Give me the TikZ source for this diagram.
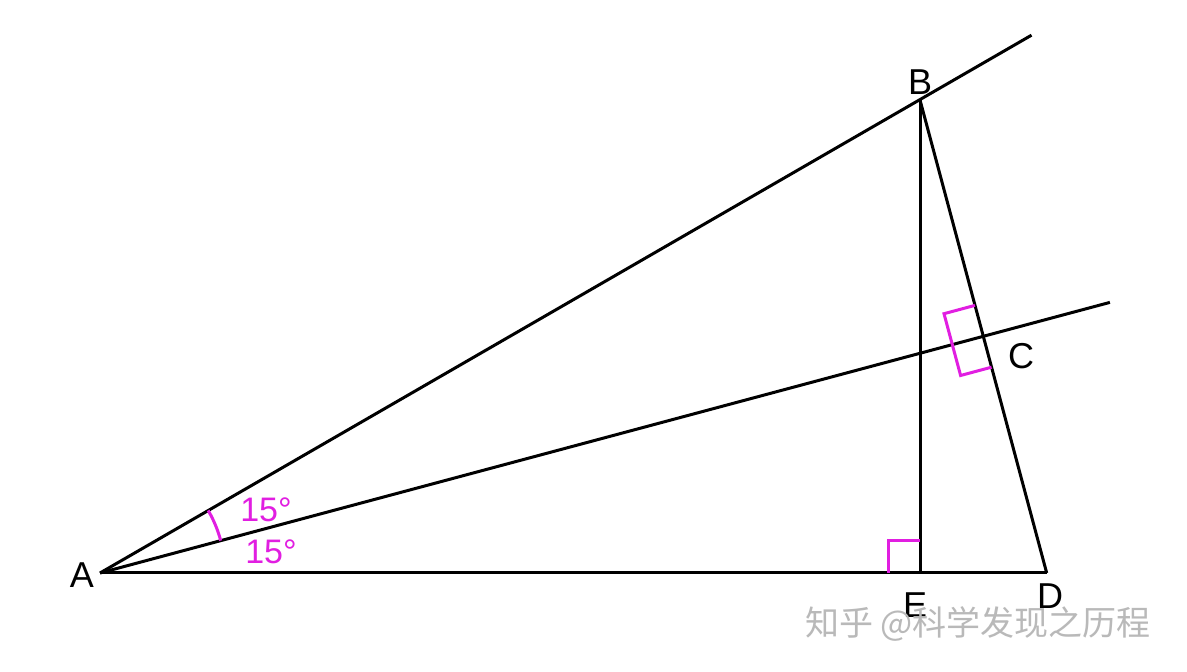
\documentclass[tikz,border=0pt]{standalone}
\usepackage{fontspec}
\setmainfont{Liberation Sans}
\newfontfamily\cjk{Noto Sans CJK SC}
\definecolor{mag}{RGB}{225,30,225}
\definecolor{wm}{RGB}{185,185,185}
\tikzset{
  geo/.style={line width=3pt, black},
  markline/.style={line width=3pt, mag},
  ptlabel/.style={font=\fontsize{36}{40}\selectfont, inner sep=0pt},
  anglabel/.style={font=\fontsize{34}{38}\selectfont, text=mag, inner sep=0pt},
  watermark/.style={font=\cjk\fontsize{34}{38}\selectfont, text=wm, inner sep=0pt}
}
\begin{document}
\begin{tikzpicture}[x=1pt,y=1pt]
\useasboundingbox (0,0) rectangle (1187,672);
\fill[white] (0,0) rectangle (1187,672);
\coordinate (A) at (100,99);
\coordinate (B) at (920,572);
\coordinate (C) at (983.2,335.7);
\coordinate (D) at (1046.7,99);
\coordinate (E) at (920,99);
\coordinate (P) at (1031.5,636.8);
\coordinate (Q) at (1109.9,369.6);
% lines
\draw[geo] (A) -- (P);
\draw[geo] (A) -- (Q);
\draw[geo] (A) -- (D);
\draw[geo] (B) -- (D);
\draw[geo] (B) -- (E);
% right angle marks
\draw[markline] (888,99) -- (888,131) -- (920,131);
\draw[markline] (974.9,366.6) -- (944,358.3) -- (960.6,296.5) -- (991.5,304.8);
% angle arc
\draw[markline] (220.7,131.4) arc[start angle=15, end angle=30, radius=125];
% labels
\node[ptlabel] (lA) at (82,97) {A};
\node[ptlabel] (lB) at (920,590) {B};
\node[ptlabel] (lC) at (1021,316) {C};
\node[ptlabel] (lD) at (1050,76) {D};
\node[ptlabel] (lE) at (915,67) {E};
\node[anglabel] (a1) at (266,162) {15°};
\node[anglabel] (a2) at (271,120) {15°};
\node[watermark] (wm) at (978,48) {知乎 @科学发现之历程};
\end{tikzpicture}
\end{document}
